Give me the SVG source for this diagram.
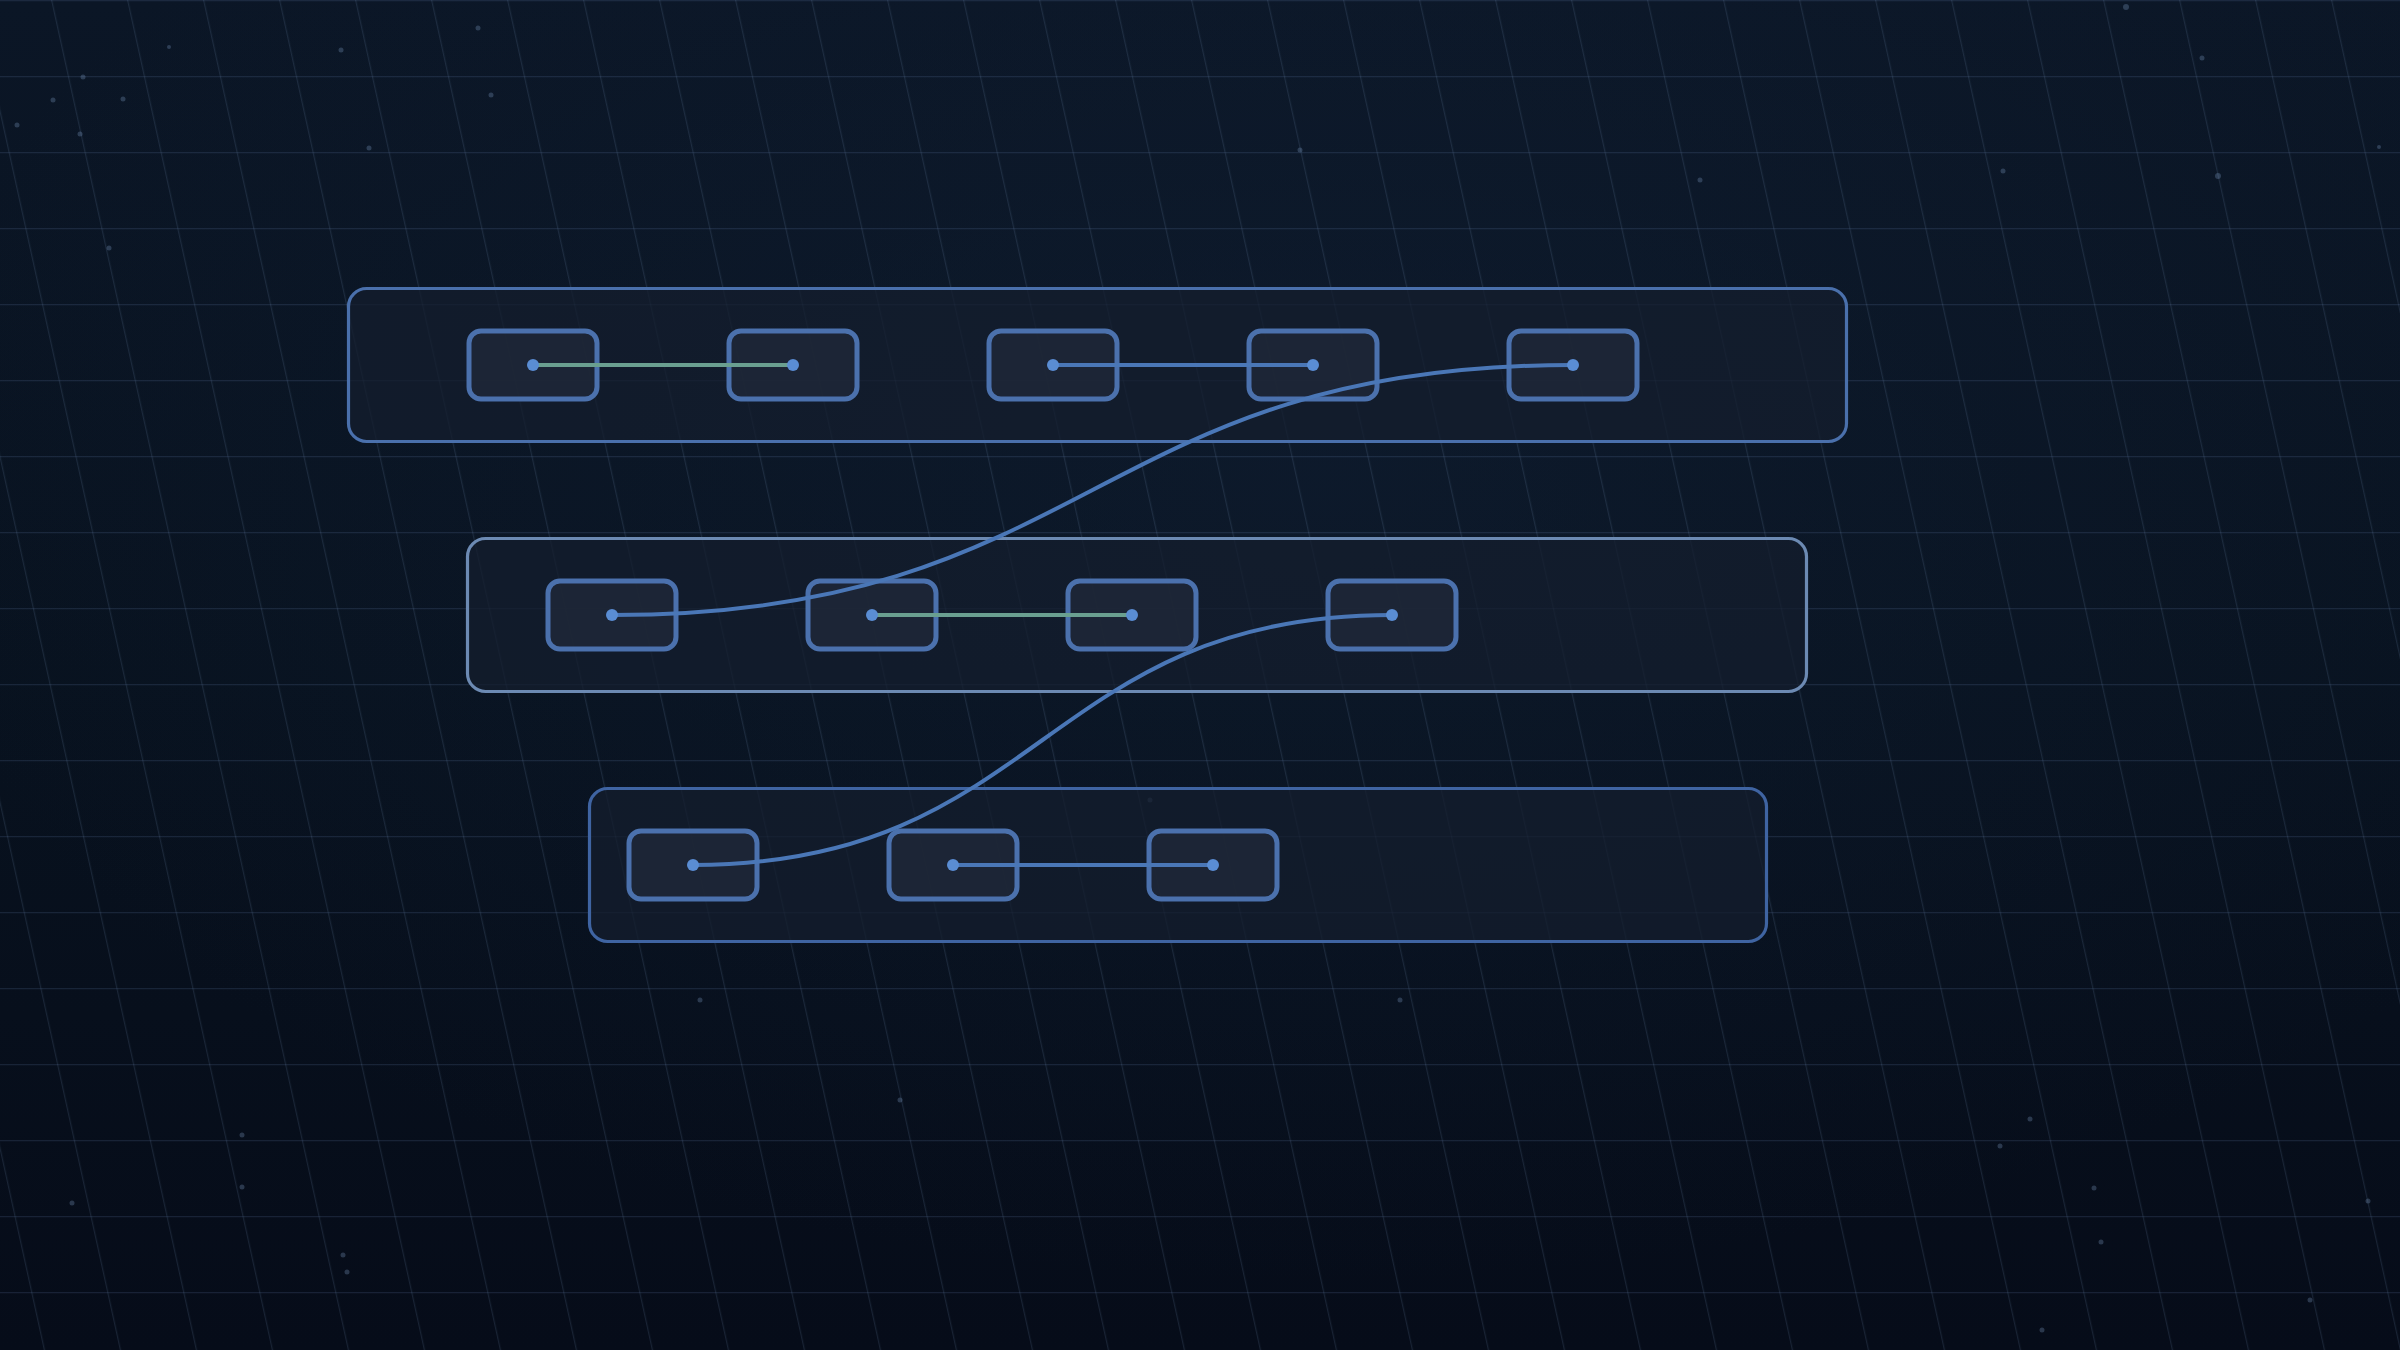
<svg xmlns="http://www.w3.org/2000/svg" width="2400" height="1350" viewBox="0 0 2400 1350">
  <defs>
    <linearGradient id="bg" x1="0" y1="0" x2="0" y2="1">
      <stop offset="0" stop-color="#0b1626"/>
      <stop offset="0.5" stop-color="#08121f"/>
      <stop offset="1" stop-color="#060c19"/>
    </linearGradient>
    <radialGradient id="glow" cx="0.55" cy="0.35" r="0.6">
      <stop offset="0" stop-color="#13233a" stop-opacity="0.4"/>
      <stop offset="1" stop-color="#13233a" stop-opacity="0"/>
    </radialGradient>
    <pattern id="grid" patternUnits="userSpaceOnUse" width="76" height="76" patternTransform="skewX(12.4)">
      <line x1="51.7" y1="0" x2="51.7" y2="76" stroke="#6d8db8" stroke-opacity="0.22" stroke-width="1"/>
      <line x1="0" y1="0.5" x2="76" y2="0.5" stroke="#5d7aa3" stroke-opacity="0.2" stroke-width="1.4"/>
    </pattern>
    <style>
      .container { fill: #141e2e; fill-opacity: 0.75; stroke-width: 3.2; }
      .c1 { stroke: #4a70ac; }
      .c2 { stroke: #6c8ab3; }
      .c3 { stroke: #3f64a2; }
      .node rect { fill: #1e2737; fill-opacity: 0.9; stroke: #4b71ad; stroke-width: 5; }
      .edge { fill: none; stroke-width: 4; stroke-linecap: round; }
      .blue { stroke: #4a77b7; }
      .green { stroke: #6a9f90; }
      .dot { fill: #5a8dd3; }
      .star { fill: #7f9cc4; fill-opacity: 0.3; }
    </style>
  </defs>

  <rect width="2400" height="1350" fill="url(#bg)"/>
  <rect width="2400" height="1350" fill="url(#glow)"/>
  <rect width="2400" height="1350" fill="url(#grid)"/>

  <g id="stars">
    <circle class="star" cx="83" cy="77" r="2.5"/>
    <circle class="star" cx="53" cy="100" r="2.5"/>
    <circle class="star" cx="123" cy="99" r="2.5"/>
    <circle class="star" cx="17" cy="125" r="2.5"/>
    <circle class="star" cx="80" cy="134" r="2.5"/>
    <circle class="star" cx="169" cy="47" r="2"/>
    <circle class="star" cx="341" cy="50" r="2.5"/>
    <circle class="star" cx="369" cy="148" r="2.5"/>
    <circle class="star" cx="109" cy="248" r="2.5"/>
    <circle class="star" cx="478" cy="28" r="2.5"/>
    <circle class="star" cx="491" cy="95" r="2.5"/>
    <circle class="star" cx="2126" cy="7" r="3"/>
    <circle class="star" cx="2202" cy="58" r="2.5"/>
    <circle class="star" cx="2218" cy="176" r="3"/>
    <circle class="star" cx="2003" cy="171" r="2.5"/>
    <circle class="star" cx="2379" cy="147" r="2"/>
    <circle class="star" cx="2030" cy="1119" r="2.5"/>
    <circle class="star" cx="2000" cy="1146" r="2.5"/>
    <circle class="star" cx="2094" cy="1188" r="2.5"/>
    <circle class="star" cx="2101" cy="1242" r="2.5"/>
    <circle class="star" cx="2310" cy="1300" r="2.5"/>
    <circle class="star" cx="2368" cy="1201" r="2.5"/>
    <circle class="star" cx="2042" cy="1330" r="2.5"/>
    <circle class="star" cx="242" cy="1135" r="2.5"/>
    <circle class="star" cx="242" cy="1187" r="2.5"/>
    <circle class="star" cx="72" cy="1203" r="2.5"/>
    <circle class="star" cx="343" cy="1255" r="2.5"/>
    <circle class="star" cx="347" cy="1272" r="2.5"/>
    <circle class="star" cx="1150" cy="800" r="2.5"/>
    <circle class="star" cx="1400" cy="1000" r="2.5"/>
    <circle class="star" cx="900" cy="1100" r="2.5"/>
    <circle class="star" cx="1700" cy="180" r="2.5"/>
    <circle class="star" cx="1300" cy="150" r="2.5"/>
    <circle class="star" cx="700" cy="1000" r="2.5"/>
  </g>

  <g id="containers">
    <rect id="group-1" class="container c1" x="348.5" y="288.5" width="1498" height="153" rx="18"/>
    <rect id="group-2" class="container c2" x="467.5" y="538.5" width="1339" height="153" rx="18"/>
    <rect id="group-3" class="container c3" x="589.5" y="788.5" width="1177" height="153" rx="18"/>
  </g>

  <g id="nodes">
    <g id="n1-1" class="node"><rect x="469" y="331" width="128" height="68" rx="12"/></g>
    <g id="n1-2" class="node"><rect x="729" y="331" width="128" height="68" rx="12"/></g>
    <g id="n1-3" class="node"><rect x="989" y="331" width="128" height="68" rx="12"/></g>
    <g id="n1-4" class="node"><rect x="1249" y="331" width="128" height="68" rx="12"/></g>
    <g id="n1-5" class="node"><rect x="1509" y="331" width="128" height="68" rx="12"/></g>

    <g id="n2-1" class="node"><rect x="548" y="581" width="128" height="68" rx="12"/></g>
    <g id="n2-2" class="node"><rect x="808" y="581" width="128" height="68" rx="12"/></g>
    <g id="n2-3" class="node"><rect x="1068" y="581" width="128" height="68" rx="12"/></g>
    <g id="n2-4" class="node"><rect x="1328" y="581" width="128" height="68" rx="12"/></g>

    <g id="n3-1" class="node"><rect x="629" y="831" width="128" height="68" rx="12"/></g>
    <g id="n3-2" class="node"><rect x="889" y="831" width="128" height="68" rx="12"/></g>
    <g id="n3-3" class="node"><rect x="1149" y="831" width="128" height="68" rx="12"/></g>
  </g>

  <g id="connectors">
    <path class="edge green" d="M533,365 L793,365"/>
    <path class="edge blue" d="M1053,365 L1313,365"/>
    <path class="edge blue" d="M1573,365 C1092.5,365 1092.5,615 612,615"/>
    <path class="edge green" d="M872,615 L1132,615"/>
    <path class="edge blue" d="M1392,615 C1042.5,615 1042.5,865 693,865"/>
    <path class="edge blue" d="M953,865 L1213,865"/>

    <circle class="dot" cx="533" cy="365" r="6"/>
    <circle class="dot" cx="793" cy="365" r="6"/>
    <circle class="dot" cx="1053" cy="365" r="6"/>
    <circle class="dot" cx="1313" cy="365" r="6"/>
    <circle class="dot" cx="1573" cy="365" r="6"/>
    <circle class="dot" cx="612" cy="615" r="6"/>
    <circle class="dot" cx="872" cy="615" r="6"/>
    <circle class="dot" cx="1132" cy="615" r="6"/>
    <circle class="dot" cx="1392" cy="615" r="6"/>
    <circle class="dot" cx="693" cy="865" r="6"/>
    <circle class="dot" cx="953" cy="865" r="6"/>
    <circle class="dot" cx="1213" cy="865" r="6"/>
  </g>
</svg>
